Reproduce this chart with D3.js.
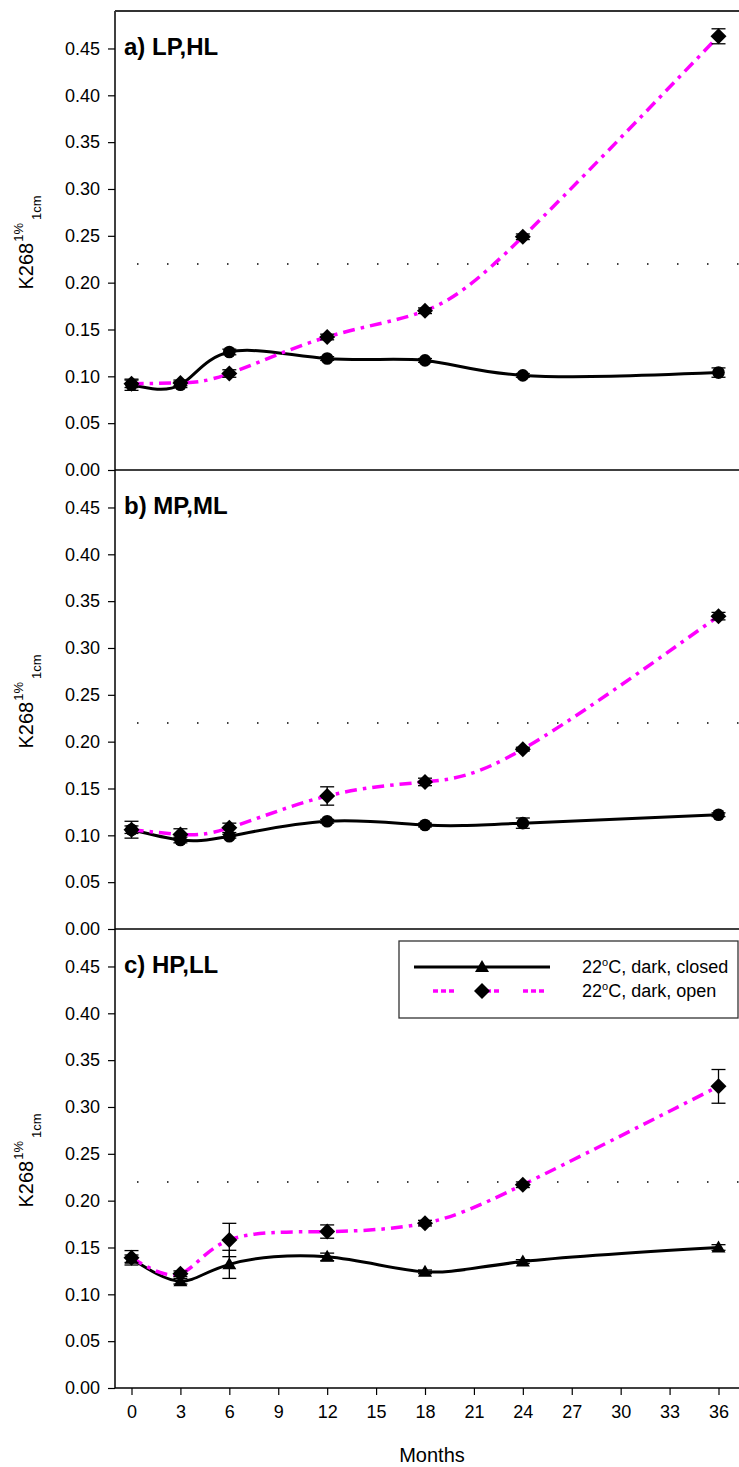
<!DOCTYPE html>
<html>
<head>
<meta charset="utf-8">
<script src="https://cdn.jsdelivr.net/npm/d3@7/dist/d3.min.js"></script>
<style>
  html, body { margin: 0; padding: 0; background: #fff; }
  svg { display: block; font-family: "Liberation Sans", Arial, sans-serif; }
</style>
</head>
<body>
<svg id="chart" width="739" height="1467"></svg>
<script>
// ---------- data ----------
const months = [0, 3, 6, 12, 18, 24, 36];
const xTicks = [0, 3, 6, 9, 12, 15, 18, 21, 24, 27, 30, 33, 36];
const yTicks = [0, 0.05, 0.10, 0.15, 0.20, 0.25, 0.30, 0.35, 0.40, 0.45];
const panelLabels = ["a) LP,HL", "b) MP,ML", "c) HP,LL"];
const closedMarkers = ["circle", "circle", "triangle"];
const limitValue = 0.22;

const closedA    = [0.091, 0.091, 0.126, 0.119, 0.117, 0.101, 0.104];
const closedAErr = [0.006, 0.003, 0.003, 0.002, 0.002, 0.002, 0.005];
const openA      = [0.092, 0.093, 0.103, 0.142, 0.170, 0.249, 0.463];
const openAErr   = [0.004, 0.003, 0.004, 0.003, 0.003, 0.003, 0.008];

const closedB    = [0.106, 0.095, 0.099, 0.115, 0.111, 0.113, 0.122];
const closedBErr = [0.004, 0.003, 0.002, 0.002, 0.002, 0.0055, 0.002];
const openB      = [0.106, 0.101, 0.108, 0.142, 0.157, 0.192, 0.334];
const openBErr   = [0.009, 0.006, 0.005, 0.0098, 0.004, 0.002, 0.004];

const closedC    = [0.138, 0.114, 0.132, 0.140, 0.124, 0.135, 0.150];
const closedCErr = [0.004, 0.003, 0.015, 0.004, 0.002, 0.002, 0.003];
const openC      = [0.139, 0.122, 0.158, 0.167, 0.176, 0.217, 0.322];
const openCErr   = [0.0077, 0.003, 0.0178, 0.0071, 0.003, 0.003, 0.018];

const legendLabels = ["22", "C, dark, closed", "C, dark, open"];

const panels = [
  { closed: closedA, closedErr: closedAErr, open: openA, openErr: openAErr },
  { closed: closedB, closedErr: closedBErr, open: openB, openErr: openBErr },
  { closed: closedC, closedErr: closedCErr, open: openC, openErr: openCErr }
];

// ---------- layout ----------
const W = 739;
const axisX = 115;
const panelBottoms = [470, 929, 1388];
const panelH = 459;
const MAGENTA = "#ff00ff";

const svg = d3.select("#chart");
const x = d3.scaleLinear().domain([0, 36]).range([131.5, 718.5]);

function drawMarker(g, type, cx, cy) {
  if (type === "circle") {
    g.append("circle").attr("cx", cx).attr("cy", cy).attr("r", 6.3).attr("fill", "#000");
  } else if (type === "triangle") {
    const s = 7;
    g.append("path").attr("d", `M${cx},${cy - 7}L${cx + s},${cy + 5}L${cx - s},${cy + 5}Z`).attr("fill", "#000");
  } else {
    const s = 8;
    g.append("path").attr("d", `M${cx},${cy - s}L${cx + s},${cy}L${cx},${cy + s}L${cx - s},${cy}Z`).attr("fill", "#000");
  }
}

panels.forEach((p, i) => {
  const bottom = panelBottoms[i];
  const y = d3.scaleLinear().domain([0, 0.49]).range([bottom, bottom - panelH]);
  const g = svg.append("g");

  // y axis
  const yAxis = d3.axisLeft(y).tickValues(yTicks).tickFormat(d3.format(".2f")).tickSize(7).tickPadding(8);
  const ya = g.append("g").attr("transform", `translate(${axisX},0)`).call(yAxis);
  ya.select(".domain").remove();
  ya.selectAll("line").attr("stroke", "#000").attr("stroke-width", 1.2);
  ya.selectAll("text").attr("font-size", 18).attr("fill", "#000").attr("font-family", "Liberation Sans, Arial, sans-serif");

  // left axis line
  g.append("line").attr("x1", axisX).attr("x2", axisX).attr("y1", bottom - panelH).attr("y2", bottom)
    .attr("stroke", "#000").attr("stroke-width", 1.5);
  // bottom line
  g.append("line").attr("x1", axisX).attr("x2", W).attr("y1", bottom).attr("y2", bottom)
    .attr("stroke", "#000").attr("stroke-width", 1.5);

  // dotted reference line
  g.append("line").attr("x1", 137).attr("x2", W).attr("y1", y(limitValue)).attr("y2", y(limitValue))
    .attr("stroke", "#000").attr("stroke-width", 1.5).attr("stroke-dasharray", "1.5,28.5");

  // panel label
  g.append("text").attr("x", 124).attr("y", bottom - panelH + 44)
    .attr("font-size", 24).attr("font-weight", "bold").attr("fill", "#000").text(panelLabels[i]);

  // y label
  const yl = g.append("text")
    .attr("transform", `translate(33,${bottom - panelH / 2 + 2}) rotate(-90)`)
    .attr("text-anchor", "middle").attr("font-size", 20).attr("fill", "#000");
  yl.append("tspan").text("K268");
  yl.append("tspan").attr("font-size", 13).attr("dy", -10).attr("dx", 1).text("1%");
  yl.append("tspan").attr("font-size", 13).attr("dy", 18).attr("dx", 3).text("1cm");

  const line = d3.line().x((d, k) => x(months[k])).y(d => y(d)).curve(d3.curveNatural);

  // closed curve
  g.append("path").attr("d", line(p.closed)).attr("fill", "none").attr("stroke", "#000").attr("stroke-width", 3);
  // open curve
  g.append("path").attr("d", line(p.open)).attr("fill", "none").attr("stroke", MAGENTA).attr("stroke-width", 3.5)
    .attr("stroke-dasharray", "12,6,3.5,6");

  // error bars
  const drawErr = (vals, errs) => {
    vals.forEach((v, k) => {
      const cx = x(months[k]);
      const y1 = y(v - errs[k]), y2 = y(v + errs[k]);
      g.append("line").attr("x1", cx).attr("x2", cx).attr("y1", y1).attr("y2", y2).attr("stroke", "#000").attr("stroke-width", 1.3);
      [y1, y2].forEach(yy => g.append("line").attr("x1", cx - 7).attr("x2", cx + 7).attr("y1", yy).attr("y2", yy)
        .attr("stroke", "#000").attr("stroke-width", 1.3));
    });
  };
  drawErr(p.closed, p.closedErr);
  drawErr(p.open, p.openErr);

  p.closed.forEach((v, k) => drawMarker(g, closedMarkers[i], x(months[k]), y(v)));
  p.open.forEach((v, k) => drawMarker(g, "diamond", x(months[k]), y(v)));
});

// top frame line
svg.append("line").attr("x1", axisX).attr("x2", W).attr("y1", panelBottoms[0] - panelH).attr("y2", panelBottoms[0] - panelH)
  .attr("stroke", "#333").attr("stroke-width", 1.8);

// x axis (bottom panel)
const xAxis = d3.axisBottom(x).tickValues(xTicks).tickSize(7).tickPadding(10);
const xa = svg.append("g").attr("transform", `translate(0,${panelBottoms[2]})`).call(xAxis);
xa.select(".domain").remove();
xa.selectAll("line").attr("stroke", "#000").attr("stroke-width", 1.2);
xa.selectAll("text").attr("font-size", 18).attr("fill", "#000").attr("font-family", "Liberation Sans, Arial, sans-serif");

svg.append("text").attr("x", 432).attr("y", 1462).attr("text-anchor", "middle")
  .attr("font-size", 20).attr("fill", "#000").text("Months");

// legend
const lg = svg.append("g");
lg.append("rect").attr("x", 399).attr("y", 941).attr("width", 339).attr("height", 77)
  .attr("fill", "#fff").attr("stroke", "#333").attr("stroke-width", 1.3);
lg.append("line").attr("x1", 414).attr("x2", 550).attr("y1", 967).attr("y2", 967).attr("stroke", "#000").attr("stroke-width", 3);
drawMarker(lg, "triangle", 482, 967);
lg.append("line").attr("x1", 433).attr("x2", 545).attr("y1", 991).attr("y2", 991).attr("stroke", MAGENTA).attr("stroke-width", 3.5)
  .attr("stroke-dasharray", "5,3,5,3,5,24");
drawMarker(lg, "diamond", 482, 991);
[[973, legendLabels[1]], [997, legendLabels[2]]].forEach(([yy, lab]) => {
  const t = lg.append("text").attr("x", 582).attr("y", yy).attr("font-size", 18).attr("fill", "#000");
  t.append("tspan").text(legendLabels[0]);
  t.append("tspan").attr("font-size", 11).attr("dy", -7).text("o");
  t.append("tspan").attr("dy", 7).text(lab);
});
</script>
</body>
</html>
